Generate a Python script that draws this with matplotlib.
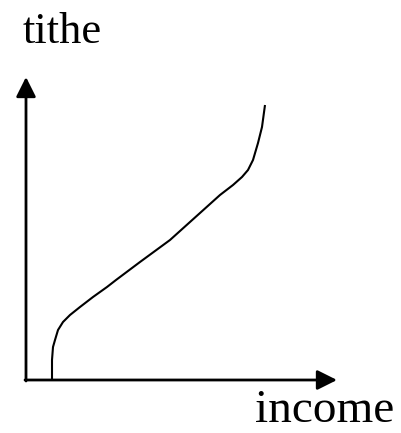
import matplotlib.pyplot as plt

# curve, origin at the axes corner
income = [26, 26, 27, 29, 32, 37, 44, 54, 67, 81, 90, 114, 144, 174, 194,
          207, 216, 222, 227, 232, 236, 239]
tithe = [0, 20, 33, 40, 50, 58, 65, 73, 83, 93, 100, 118, 140, 167, 185,
         195, 203, 210, 220, 237, 253, 275]

x_label = "income"
y_label = "tithe"

fig = plt.figure(figsize=(4.01, 4.33), dpi=100)
ax = fig.add_axes([0, 0, 1, 1])
ax.set_xlim(-26, 375)
ax.set_ylim(-53, 380)
ax.axis("off")

arrow = dict(arrowstyle="-|>,head_length=0.6,head_width=0.3", lw=2,
             color="black", mutation_scale=20, shrinkA=0, shrinkB=0)
ax.annotate("", xy=(0, 303), xytext=(0, -1), arrowprops=arrow)
ax.annotate("", xy=(311, 0), xytext=(-1, 0), arrowprops=arrow)

ax.plot(income, tithe, color="black", lw=1.5, solid_capstyle="butt",
        solid_joinstyle="round")

ax.text(-3, 337, y_label, ha="left", va="baseline",
        family="Liberation Serif", fontsize=32)
ax.text(229, -52, x_label, ha="left", va="bottom",
        family="Liberation Serif", fontsize=34)

fig.savefig("out.png", dpi=100)
